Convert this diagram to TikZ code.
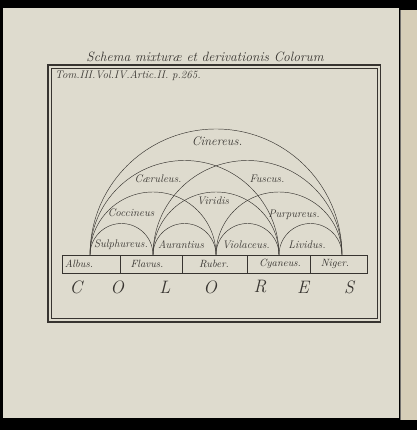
\documentclass[tikz,border=0pt]{standalone}
\usepackage{tikz}
\definecolor{paper}{RGB}{222,219,206}
\definecolor{nextpage}{RGB}{214,206,184}
\definecolor{ink}{RGB}{55,52,48}

\begin{document}
\begin{tikzpicture}[x=1pt, y=1pt,
  arcline/.style={draw=ink, line width=0.45pt},
  lab/.style={text=ink, font=\fontsize{11}{12}\selectfont\itshape, inner sep=0pt},
  barlab/.style={text=ink, font=\fontsize{10.5}{12}\selectfont\itshape, inner sep=0pt},
  big/.style={text=ink, font=\fontsize{18}{19}\selectfont\itshape, inner sep=0pt}]

\fill[black] (0, 0) rectangle (417, 430);
\useasboundingbox (0, 0) rectangle (417, 430);

% pages
\fill[paper] (3, 12) rectangle (399, 422);
\fill[nextpage] (401, 10) rectangle (417, 420);
\draw[ink!70, line width=1pt] (400, 10) -- (400, 420);

% frame
\draw[ink, line width=1.3pt] (48, 108) rectangle (380.5, 365);
\draw[ink, line width=0.6pt] (51.5, 111.5) rectangle (377.5, 361.5);

\node[lab, font=\fontsize{13.5}{15}\selectfont\itshape] (title) at (205, 373) {Schema mixturæ et derivationis Colorum};
\node[lab, anchor=west] (tom) at (55, 354) {Tom.III.Vol.IV.Artic.II. p.265.};

% bar with the five simple colours
\draw[ink, line width=0.6pt] (62, 157) rectangle (367, 175);
\foreach \x in {120, 182, 247, 310}
  \draw[ink, line width=0.6pt] (\x, 157) -- (\x, 175);

\node[barlab] (albus) at (79, 166) {Albus.};
\node[barlab] (flavus) at (147, 166) {Flavus.};
\node[barlab] (ruber) at (214, 166) {Ruber.};
\node[barlab] (cyaneus) at (280, 166) {Cyaneus.};
\node[barlab] (niger) at (335, 166) {Niger.};

% base points of the arches
\coordinate (b0) at (90, 175);
\coordinate (b1) at (153, 175);
\coordinate (b2) at (216, 175);
\coordinate (b3) at (279, 175);
\coordinate (b4) at (342, 175);

\draw[arcline] (b0) arc[start angle=180, end angle=0, radius=31.5];
\draw[arcline] (b1) arc[start angle=180, end angle=0, radius=31.5];
\draw[arcline] (b2) arc[start angle=180, end angle=0, radius=31.5];
\draw[arcline] (b3) arc[start angle=180, end angle=0, radius=31.5];

\draw[arcline] (b0) arc[start angle=180, end angle=0, radius=63];
\draw[arcline] (b1) arc[start angle=180, end angle=0, radius=63];
\draw[arcline] (b2) arc[start angle=180, end angle=0, radius=63];

\draw[arcline] (b0) arc[start angle=180, end angle=0, radius=94.5];
\draw[arcline] (b1) arc[start angle=180, end angle=0, radius=94.5];

\draw[arcline] (b0) arc[start angle=180, end angle=0, radius=126];

\node[lab] (sulphureus) at (121, 185) {Sulphureus.};
\node[lab] (aurantius) at (181, 185) {Aurantius};
\node[lab] (violaceus) at (246, 185) {Violaceus.};
\node[lab] (lividus) at (307, 185) {Lividus.};
\node[lab] (coccineus) at (131, 217) {Coccineus};
\node[lab] (viridis) at (213, 229) {Viridis};
\node[lab] (purpureus) at (294, 215) {Purpureus.};
\node[lab] (caeruleus) at (158, 251) {Cæruleus.};
\node[lab] (fuscus) at (267, 251) {Fuscus.};
\node[lab, font=\fontsize{12.5}{14}\selectfont\itshape] (cinereus) at (217, 289) {Cinereus.};

% C O L O R E S
\foreach \ch/\x in {C/76, O/117, L/165, O/210, R/260, E/303, S/349}
  \node[big] at (\x, 143) {\ch};

\end{tikzpicture}
\end{document}
